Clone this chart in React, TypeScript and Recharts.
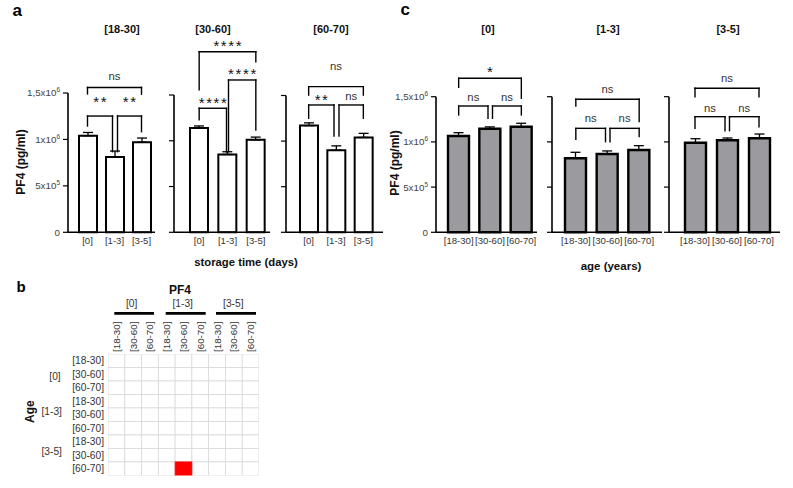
import React from 'react';
import { BarChart, Bar, XAxis, YAxis, ErrorBar, ReferenceLine, ScatterChart, Scatter } from 'recharts';

const FONT = '"Liberation Sans", Arial, Helvetica, sans-serif';

// ---------- categories / ticks ----------
const storageTimes = ['[0]', '[1-3]', '[3-5]'];
const ageGroups = ['[18-30]', '[30-60]', '[60-70]'];
const yTicks = [0, 500000, 1000000, 1500000];

// ---------- panel a: PF4 (pg/ml) vs storage time, per age group (mean, SEM) ----------
const pf4Age1830 = [1040000, 810000, 970000];
const semAge1830 = [35000, 65000, 45000];
const pf4Age3060 = [1140000, 850000, 1010000];
const semAge3060 = [22000, 30000, 30000];
const pf4Age6070 = [1170000, 900000, 1040000];
const semAge6070 = [30000, 48000, 45000];

// ---------- panel c: PF4 (pg/ml) vs age, per storage time (mean, SEM) ----------
const pf4Day0 = [1065000, 1146000, 1168000];
const semDay0 = [37000, 20000, 38000];
const pf4Day13 = [819000, 866000, 910000];
const semDay13 = [66000, 34000, 48000];
const pf4Day35 = [991000, 1018000, 1040000];
const semDay35 = [44000, 25000, 47000];

// ---------- significance brackets (heights in pg/ml) ----------
type Br = { a: string; b: string; h: number; l: number; r: number; text: string; gap: number; dxa?: number; dxb?: number };

const bracketsA1830: Br[] = [
  { a: '[0]', b: '[3-5]', h: 1560000, l: 1490000, r: 1487000, text: 'ns', gap: 11 },
  { a: '[0]', b: '[1-3]', h: 1252000, l: 1145000, r: 868000, text: '**', gap: 17, dxb: -2 },
  { a: '[1-3]', b: '[3-5]', h: 1252000, l: 868000, r: 1083000, text: '**', gap: 17, dxa: 3 },
];
const bracketsA3060: Br[] = [
  { a: '[0]', b: '[3-5]', h: 1973000, l: 1556000, r: 1864000, text: '****', gap: 9.5 },
  { a: '[1-3]', b: '[3-5]', h: 1664000, l: 880000, r: 1118000, text: '****', gap: 9, dxa: 1 },
  { a: '[0]', b: '[1-3]', h: 1355000, l: 1230000, r: 880000, text: '****', gap: 8.5, dxb: -1 },
];
const bracketsA6070: Br[] = [
  { a: '[0]', b: '[3-5]', h: 1597000, l: 1505000, r: 1505000, text: 'ns', gap: 20 },
  { a: '[0]', b: '[1-3]', h: 1396000, l: 1250000, r: 1056000, text: '**', gap: 8.5, dxb: -2 },
  { a: '[1-3]', b: '[3-5]', h: 1396000, l: 1056000, r: 1250000, text: 'ns', gap: 8.5, dxa: 3 },
];
const bracketsDay0: Br[] = [
  { a: '[18-30]', b: '[60-70]', h: 1704000, l: 1604000, r: 1482000, text: '*', gap: 10 },
  { a: '[18-30]', b: '[30-60]', h: 1397000, l: 1298000, r: 1261000, text: 'ns', gap: 8.7, dxb: -2 },
  { a: '[30-60]', b: '[60-70]', h: 1397000, l: 1261000, r: 1298000, text: 'ns', gap: 8.7, dxa: 2.5 },
];
const bracketsDay13: Br[] = [
  { a: '[18-30]', b: '[60-70]', h: 1471000, l: 1397000, r: 1224000, text: 'ns', gap: 9.3 },
  { a: '[18-30]', b: '[30-60]', h: 1150000, l: 1029000, r: 1002000, text: 'ns', gap: 9.3, dxb: -2 },
  { a: '[30-60]', b: '[60-70]', h: 1150000, l: 1002000, r: 1058000, text: 'ns', gap: 9.3, dxa: 2.5 },
];
const bracketsDay35: Br[] = [
  { a: '[18-30]', b: '[60-70]', h: 1593000, l: 1500000, r: 1500000, text: 'ns', gap: 9.3 },
  { a: '[18-30]', b: '[30-60]', h: 1279000, l: 1150000, r: 1124000, text: 'ns', gap: 8.5, dxb: -2 },
  { a: '[30-60]', b: '[60-70]', h: 1279000, l: 1124000, r: 1168000, text: 'ns', gap: 8.5, dxa: 2.5 },
];

// ---------- panel b: significance matrix ----------
const heatGroups = storageTimes; // both rows (Age) and columns (PF4) grouped by storage time
const heatSub = ageGroups;
const significantCells = [{ rowTime: '[3-5]', rowAge: '[60-70]', colTime: '[1-3]', colAge: '[30-60]' }];

// ---------- helpers ----------
function sci(v: number): [string, string] {
  if (v === 0) return ['0', ''];
  const e = Math.floor(Math.log10(v) + 1e-9);
  const m = Math.round((v / Math.pow(10, e)) * 100) / 100;
  return [`${String(m).replace('.', ',')}x10`, String(e)];
}

const YTick = (p: any) => {
  const [base, exp] = sci(p.payload.value);
  return (
    <text x={p.x} y={p.y + 3.5} textAnchor="end" fontSize={9.8} fill="#444">
      {base}
      {exp ? <tspan dy={-4} fontSize={6.5}>{exp}</tspan> : null}
    </text>
  );
};
const EmptyTick = () => <g />;
const XTick = (p: any) => (
  <text x={p.x} y={p.y + 12} textAnchor="middle" fontSize={9.6} fill="#333">
    {p.payload.value}
  </text>
);

const makeH = (br: Br) => (p: any) => {
  const x1 = p.x1 + (br.dxa ?? 0);
  const x2 = p.x2 + (br.dxb ?? 0);
  const y = p.y1;
  const star = br.text.includes('*');
  const ls = star ? 1.6 : 0;
  return (
    <g>
      <line x1={x1} y1={y} x2={x2} y2={y} stroke="#000" strokeWidth={1.4} strokeLinecap="square" />
      <text
        x={(x1 + x2) / 2 + ls / 2}
        y={y - br.gap + (star ? 8.3 : 3.4)}
        textAnchor="middle"
        fontSize={star ? 15 : 11.3}
        letterSpacing={ls}
        fill={star ? '#111' : '#333'}
      >
        {br.text}
      </text>
    </g>
  );
};
const makeV = (dx: number) => (p: any) => (
  <line x1={p.x1 + dx} y1={p.y1} x2={p.x2 + dx} y2={p.y2} stroke="#000" strokeWidth={1.4} strokeLinecap="square" />
);

type PanelProps = {
  cats: string[];
  means: number[];
  sems: number[];
  brackets: Br[];
  axisX: number;
  plotW: number;
  padL: number;
  padR: number;
  top: number;
  bottom: number;
  barSize: number;
  fill: string;
  barStroke: number;
  showY: boolean;
};

function Panel(p: PanelProps) {
  const YW = 60;
  const MR = 4;
  const XH = 24;
  const data = p.cats.map((c, i) => ({ cat: c, mean: p.means[i], err: [0, p.sems[i]] }));
  return (
    <div style={{ position: 'absolute', left: p.axisX - YW, top: 0 }}>
      <BarChart
        width={YW + p.plotW + MR}
        height={p.bottom + XH}
        data={data}
        margin={{ top: p.top, right: MR, left: 0, bottom: 0 }}
      >
        <XAxis
          dataKey="cat"
          type="category"
          height={XH}
          padding={{ left: p.padL, right: p.padR }}
          axisLine={{ stroke: '#000', strokeWidth: 1.6 }}
          tickLine={false}
          tickSize={0}
          tickMargin={0}
          tick={XTick}
          interval={0}
        />
        <YAxis
          type="number"
          domain={[0, 1500000]}
          ticks={yTicks}
          width={YW}
          axisLine={{ stroke: '#000', strokeWidth: 1.6 }}
          tickLine={{ stroke: '#000', strokeWidth: 1.2 }}
          tickSize={5}
          tickMargin={3}
          tick={p.showY ? YTick : EmptyTick}
          interval={0}
        />
        <Bar
          dataKey="mean"
          fill={p.fill}
          stroke="#000"
          strokeWidth={p.barStroke}
          barSize={p.barSize}
          isAnimationActive={false}
        >
          <ErrorBar dataKey="err" direction="y" width={5} stroke="#000" strokeWidth={1.3} />
        </Bar>
        {p.brackets.map((br, i) => (
          <ReferenceLine
            key={`h${i}`}
            segment={[{ x: br.a, y: br.h }, { x: br.b, y: br.h }]}
            ifOverflow="visible"
            shape={makeH(br)}
          />
        ))}
        {p.brackets.map((br, i) => (
          <ReferenceLine
            key={`l${i}`}
            segment={[{ x: br.a, y: br.h }, { x: br.a, y: br.l }]}
            ifOverflow="visible"
            shape={makeV(br.dxa ?? 0)}
          />
        ))}
        {p.brackets.map((br, i) => (
          <ReferenceLine
            key={`r${i}`}
            segment={[{ x: br.b, y: br.h }, { x: br.b, y: br.r }]}
            ifOverflow="visible"
            shape={makeV(br.dxb ?? 0)}
          />
        ))}
      </BarChart>
    </div>
  );
}

// ---------- heatmap ----------
const heatKeys = heatGroups.flatMap((g) => heatSub.map((s) => ({ time: g, age: s })));
const HM_LEFT = 108.3;
const HM_TOP = 354.3;
const HM_W = 151;
const HM_H = 121.4;
const CW = HM_W / heatKeys.length;
const CH = HM_H / heatKeys.length;

const heatCells = heatKeys
  .flatMap((rk, r) =>
    heatKeys.map((ck, c) => ({
      r,
      c,
      sig: significantCells.some(
        (s) => s.rowTime === rk.time && s.rowAge === rk.age && s.colTime === ck.time && s.colAge === ck.age
      )
        ? 1
        : 0,
    }))
  )
  .sort((a, b) => a.sig - b.sig);

const CellShape = (p: any) => (
  <rect
    x={p.cx - CW / 2}
    y={p.cy - CH / 2}
    width={CW}
    height={CH}
    fill={p.payload.sig ? '#ff0000' : '#ffffff'}
    stroke={p.payload.sig ? '#ff0000' : '#d9d9d9'}
    strokeWidth={0.8}
  />
);
const ColTick = (p: any) => (
  <text transform={`translate(${p.x + 3.5},${p.y}) rotate(-90)`} textAnchor="start" fontSize={9.8} fill="#333">
    {heatKeys[p.payload.value]?.age}
  </text>
);
const RowTick = (p: any) => (
  <text x={p.x} y={p.y + 3.6} textAnchor="end" fontSize={10.2} fill="#333">
    {heatKeys[p.payload.value]?.age}
  </text>
);

function Heatmap() {
  const YW = 80;
  const XH = 40;
  const idx = heatKeys.map((_, i) => i);
  return (
    <div style={{ position: 'absolute', left: HM_LEFT - YW, top: HM_TOP - XH }}>
      <ScatterChart width={YW + HM_W + 4} height={XH + HM_H + 4} margin={{ top: 0, right: 4, bottom: 4, left: 0 }}>
        <XAxis
          type="number"
          dataKey="c"
          orientation="top"
          domain={[-0.5, heatKeys.length - 0.5]}
          ticks={idx}
          height={XH}
          axisLine={false}
          tickLine={false}
          tickSize={0}
          tickMargin={2}
          tick={ColTick}
          interval={0}
          allowDataOverflow
        />
        <YAxis
          type="number"
          dataKey="r"
          domain={[-0.5, heatKeys.length - 0.5]}
          reversed
          ticks={idx}
          width={YW}
          axisLine={false}
          tickLine={false}
          tickSize={0}
          tickMargin={4}
          tick={RowTick}
          interval={0}
          allowDataOverflow
        />
        <Scatter data={heatCells} shape={CellShape} isAnimationActive={false} />
      </ScatterChart>
    </div>
  );
}

// ---------- app ----------
const aTitleX = [122, 213, 331];
const cTitleX = [488, 608, 728];
const hmGroupX = [131.7, 182.7, 233.3];
const hmLines = [
  [114.3, 154],
  [165.7, 205.7],
  [216, 256],
];
const hmRowGroupPos = [
  [55, 379.6],
  [51.7, 415.3],
  [51.7, 455.3],
];

export default function App() {
  return (
    <div
      style={{
        position: 'absolute',
        left: 0,
        top: 0,
        width: 793,
        height: 488,
        background: '#fff',
        fontFamily: FONT,
        overflow: 'hidden',
      }}
    >
      <Panel cats={storageTimes} means={pf4Age1830} sems={semAge1830} brackets={bracketsA1830}
        axisX={68} plotW={87} padL={6} padR={0} top={93} bottom={232.3} barSize={18} fill="#ffffff" barStroke={2} showY />
      <Panel cats={storageTimes} means={pf4Age3060} sems={semAge3060} brackets={bracketsA3060}
        axisX={174} plotW={96} padL={11} padR={0} top={95} bottom={232.3} barSize={18} fill="#ffffff" barStroke={2} showY={false} />
      <Panel cats={storageTimes} means={pf4Age6070} sems={semAge6070} brackets={bracketsA6070}
        axisX={286} plotW={97} padL={9} padR={6} top={95.5} bottom={232.3} barSize={18} fill="#ffffff" barStroke={2} showY={false} />

      <Panel cats={ageGroups} means={pf4Day0} sems={semDay0} brackets={bracketsDay0}
        axisX={436} plotW={101} padL={7} padR={0} top={96.7} bottom={232.3} barSize={21} fill="#9b9b9f" barStroke={2.4} showY />
      <Panel cats={ageGroups} means={pf4Day13} sems={semDay13} brackets={bracketsDay13}
        axisX={552} plotW={110} padL={8} padR={7} top={96.7} bottom={232.3} barSize={21} fill="#9b9b9f" barStroke={2.4} showY={false} />
      <Panel cats={ageGroups} means={pf4Day35} sems={semDay35} brackets={bracketsDay35}
        axisX={669} plotW={111} padL={10} padR={5} top={96.7} bottom={232.3} barSize={21} fill="#9b9b9f" barStroke={2.4} showY={false} />

      <Heatmap />

      <svg width={793} height={488} style={{ position: 'absolute', left: 0, top: 0, pointerEvents: 'none' }}>
        <text x={12.5} y={15.5} fontSize={17} fontWeight="bold" fill="#000">a</text>
        <text x={400.5} y={14.5} fontSize={17} fontWeight="bold" fill="#000">c</text>
        <text x={16.5} y={292} fontSize={15} fontWeight="bold" fill="#000">b</text>

        {ageGroups.map((t, i) => (
          <text key={t} x={aTitleX[i]} y={33} textAnchor="middle" fontSize={11} fontWeight="bold" fill="#111">{t}</text>
        ))}
        {storageTimes.map((t, i) => (
          <text key={t} x={cTitleX[i]} y={33} textAnchor="middle" fontSize={11} fontWeight="bold" fill="#111">{t}</text>
        ))}

        <text transform="translate(24.5,162) rotate(-90)" textAnchor="middle" fontSize={12} fontWeight="bold" fill="#111">PF4 (pg/ml)</text>
        <text transform="translate(398.5,163) rotate(-90)" textAnchor="middle" fontSize={12} fontWeight="bold" fill="#111">PF4 (pg/ml)</text>
        <text x={246} y={266} textAnchor="middle" fontSize={11.3} fontWeight="bold" fill="#111">storage time (days)</text>
        <text x={611} y={270} textAnchor="middle" fontSize={11.5} fontWeight="bold" fill="#111">age (years)</text>

        <text x={180} y={294} textAnchor="middle" fontSize={12} fontWeight="bold" fill="#111">PF4</text>
        {heatGroups.map((g, i) => (
          <text key={`cg${g}`} x={hmGroupX[i]} y={307} textAnchor="middle" fontSize={10.2} fill="#333">{g}</text>
        ))}
        {hmLines.map((l, i) => (
          <line key={`gl${i}`} x1={l[0]} x2={l[1]} y1={313.3} y2={313.3} stroke="#000" strokeWidth={2.8} />
        ))}
        {heatGroups.map((g, i) => (
          <text key={`rg${g}`} x={hmRowGroupPos[i][0]} y={hmRowGroupPos[i][1]} textAnchor="middle" fontSize={10.2} fill="#333">{g}</text>
        ))}
        <text transform="translate(33.8,411.7) rotate(-90)" textAnchor="middle" fontSize={12} fontWeight="bold" fill="#111">Age</text>
      </svg>
    </div>
  );
}
